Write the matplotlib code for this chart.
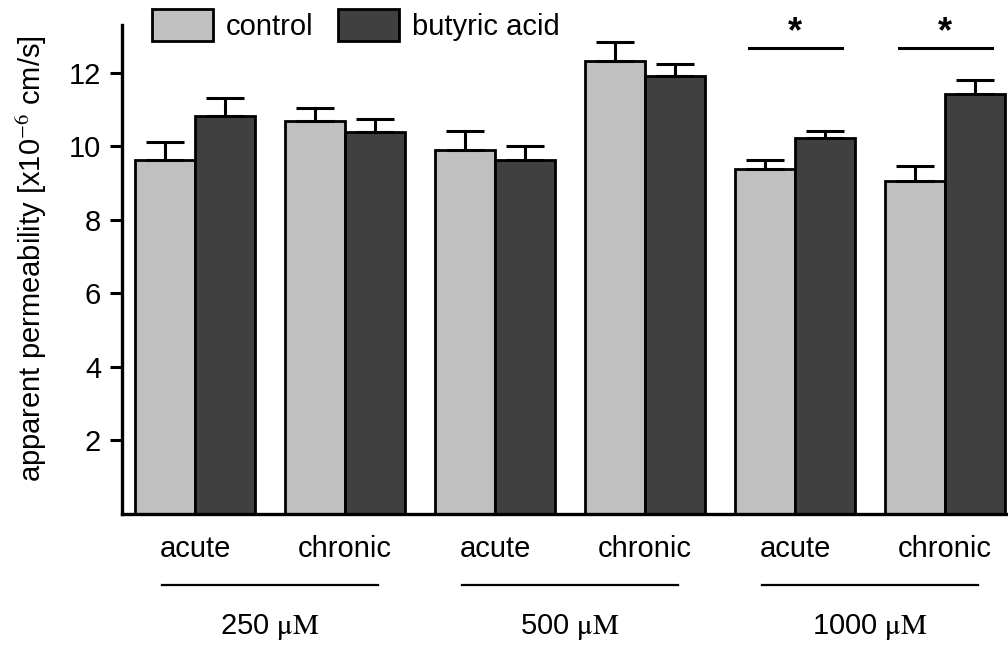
import matplotlib
matplotlib.use("Agg")
import matplotlib.pyplot as plt
import numpy as np
from matplotlib.patches import Patch

plt.rcParams["font.family"] = ["Liberation Sans", "DejaVu Sans"]
plt.rcParams["mathtext.fontset"] = "stix"

# data
conditions = ["acute", "chronic", "acute", "chronic", "acute", "chronic"]
doses = ["250", "500", "1000"]
control = [9.62, 10.68, 9.9, 12.32, 9.38, 9.06]
control_err = [0.5, 0.36, 0.52, 0.52, 0.25, 0.41]
butyric = [10.82, 10.4, 9.62, 11.92, 10.24, 11.42]
butyric_err = [0.5, 0.33, 0.38, 0.32, 0.18, 0.39]
significant = [4, 5]

LIGHT = "#c0c0c0"
DARK = "#404040"
FS = 21

fig = plt.figure(figsize=(10.08, 6.46), dpi=100)
ax = fig.add_axes([0.121, 0.2043, 0.879, 0.757])

x = np.arange(len(conditions))
w = 0.4
err_kw = dict(ecolor="black", elinewidth=2.2, capsize=14, capthick=2.2)
ax.bar(x - w / 2, control, w, color=LIGHT, edgecolor="black", linewidth=2,
       yerr=[np.zeros(len(control)), control_err], error_kw=err_kw, zorder=2)
ax.bar(x + w / 2, butyric, w, color=DARK, edgecolor="black", linewidth=2,
       yerr=[np.zeros(len(butyric)), butyric_err], error_kw=err_kw, zorder=2)

ax.set_xlim(-0.487, 5.42)
ax.set_ylim(0, 13.3)
ax.set_yticks([2, 4, 6, 8, 10, 12])
ax.set_xticks([])
ax.tick_params(axis="y", direction="out", length=9, width=2.2, labelsize=FS, pad=6)
for s in ["top", "right"]:
    ax.spines[s].set_visible(False)
for s in ["left", "bottom"]:
    ax.spines[s].set_linewidth(2.4)
ax.set_ylabel("apparent permeability [x10$^{-6}$ cm/s]", fontsize=FS, va="center")
ax.yaxis.set_label_coords(-0.102, 0.523)

# condition labels and dose brackets below the axis
for xi, c in zip(x, conditions):
    ax.text(xi, -0.95, c, ha="center", va="center", fontsize=FS, clip_on=False)
for i, d in enumerate(doses):
    cx = 2 * i + 0.5
    ax.plot([cx - 0.72, cx + 0.72], [-1.92, -1.92], color="black", lw=1.6, clip_on=False)
    ax.text(cx, -3.08, d + r" $\mathrm{\mu M}$", ha="center", va="center", fontsize=FS,
            clip_on=False)

# significance marks
for i in significant:
    ax.plot([i - 0.31, i + 0.31], [12.68, 12.68], color="black", lw=2.2, clip_on=False)
    ax.text(i, 13.1, "*", ha="center", va="center", fontsize=26, fontweight="bold",
            clip_on=False)

handles = [Patch(facecolor=LIGHT, edgecolor="black", linewidth=2, label="control"),
           Patch(facecolor=DARK, edgecolor="black", linewidth=2, label="butyric acid")]
fig.legend(handles=handles, loc="upper left", bbox_to_anchor=(0.145, 0.995), ncol=2,
           frameon=False, fontsize=FS, handlelength=2.1, handleheight=1.3,
           handletextpad=0.42, columnspacing=0.86, borderpad=0.2, borderaxespad=0)

fig.savefig("out.png", dpi=100)
